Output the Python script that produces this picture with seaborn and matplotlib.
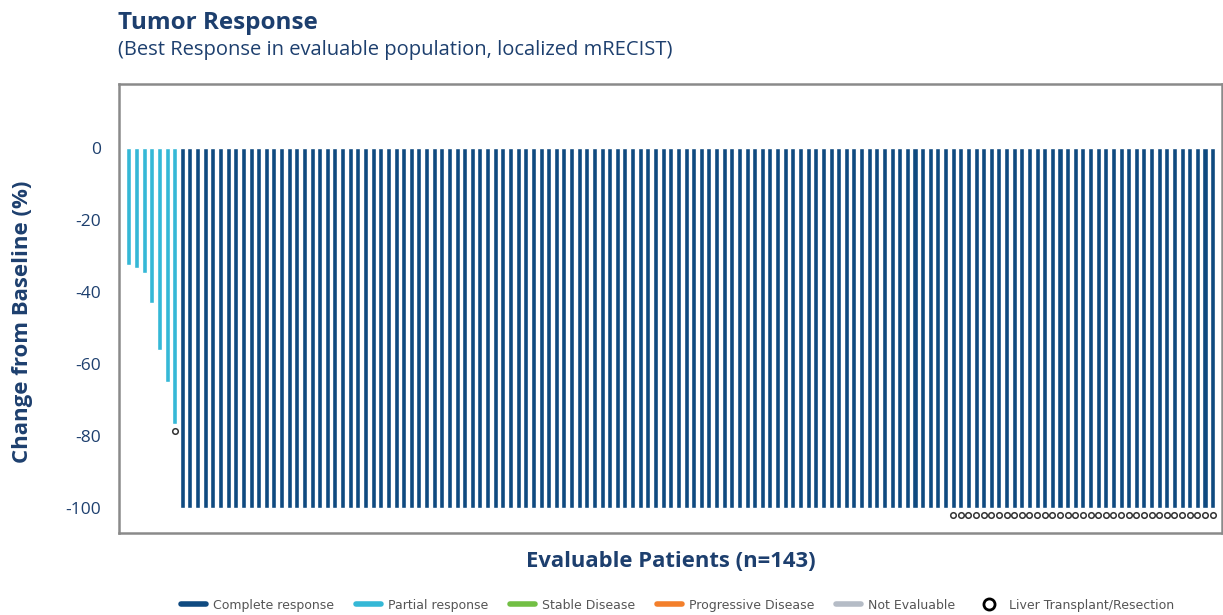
import matplotlib
matplotlib.use("Agg")
import matplotlib.pyplot as plt
from matplotlib.lines import Line2D
import numpy as np
import pandas as pd
import seaborn as sns

# datos
partial_vals = [-32.5, -33.3, -34.7, -43, -56, -65, -76.5]
n_total = 143
n_complete = n_total - len(partial_vals)
complete_val = -100
resection_partial = [6]                 # indice de la barra parcial con marcador
resection_complete = list(range(108, 143))  # barras completas con marcador

categorias = ["Complete response", "Partial response", "Stable Disease",
              "Progressive Disease", "Not Evaluable"]
colores = ["#0f4a80", "#35b8d6", "#72bf44", "#f37f2b", "#b5bcc6"]

valores = partial_vals + [complete_val] * n_complete
respuesta = ["Partial response"] * len(partial_vals) + ["Complete response"] * n_complete
df = pd.DataFrame({"paciente": range(n_total), "cambio": valores, "respuesta": respuesta})

sns.set_style("white")
plt.rcParams['font.family'] = ['Open Sans', 'DejaVu Sans']
plt.rcParams['axes.unicode_minus'] = False

navy = "#1d3f6e"
fig = plt.figure(figsize=(12.23, 6.15), dpi=100)
ax = fig.add_axes([0.0973, 0.1333, 0.9017, 0.7297])

sns.barplot(data=df, x="paciente", y="cambio", hue="respuesta",
            palette=dict(zip(categorias, colores)), dodge=False, width=0.66,
            legend=False, ax=ax, saturation=1)

# marcadores de trasplante / reseccion
mx = resection_partial + resection_complete
my = [valores[i] - 2 for i in mx]
ax.scatter(mx, my, s=16, facecolor="white", edgecolor="#333333", linewidth=1.1, zorder=5)

ax.set_xlim(-1.3, 143.2)
ax.set_ylim(-106.9, 17.8)
ax.set_yticks([0, -20, -40, -60, -80, -100])
ax.set_xticks([])
ax.tick_params(axis="y", length=0, labelsize=12.5, labelcolor=navy, pad=13)
for s in ax.spines.values():
    s.set_color("#8a8a8a")
    s.set_linewidth(1.8)

ax.set_ylabel("Change from Baseline (%)", fontsize=16, fontweight="bold", color=navy)
ax.yaxis.set_label_coords(-0.078, 0.47)
ax.set_xlabel("Evaluable Patients (n=143)", fontsize=15.8, fontweight="bold", color=navy, labelpad=13)

fig.text(0.0965, 0.962, "Tumor Response", fontsize=17.5, fontweight="bold", color=navy, va="center")
fig.text(0.0965, 0.918, "(Best Response in evaluable population, localized mRECIST)",
         fontsize=14.5, color=navy, va="center")

handles = [Line2D([0], [0], color=c, lw=4) for c in colores]
handles.append(Line2D([0], [0], marker="o", color="none", markerfacecolor="white",
                      markeredgecolor="black", markeredgewidth=2, markersize=8))
etiquetas = categorias + ["Liver Transplant/Resection"]
leg = fig.legend(handles, etiquetas, loc="center", bbox_to_anchor=(0.554, 0.016), ncol=6,
                 frameon=False, handlelength=2.0, columnspacing=1.7,
                 handletextpad=0.6, prop={"family": ["DejaVu Sans"], "size": 9})
for t in leg.get_texts():
    t.set_color("#555555")

plt.savefig("out.png", dpi=100)
